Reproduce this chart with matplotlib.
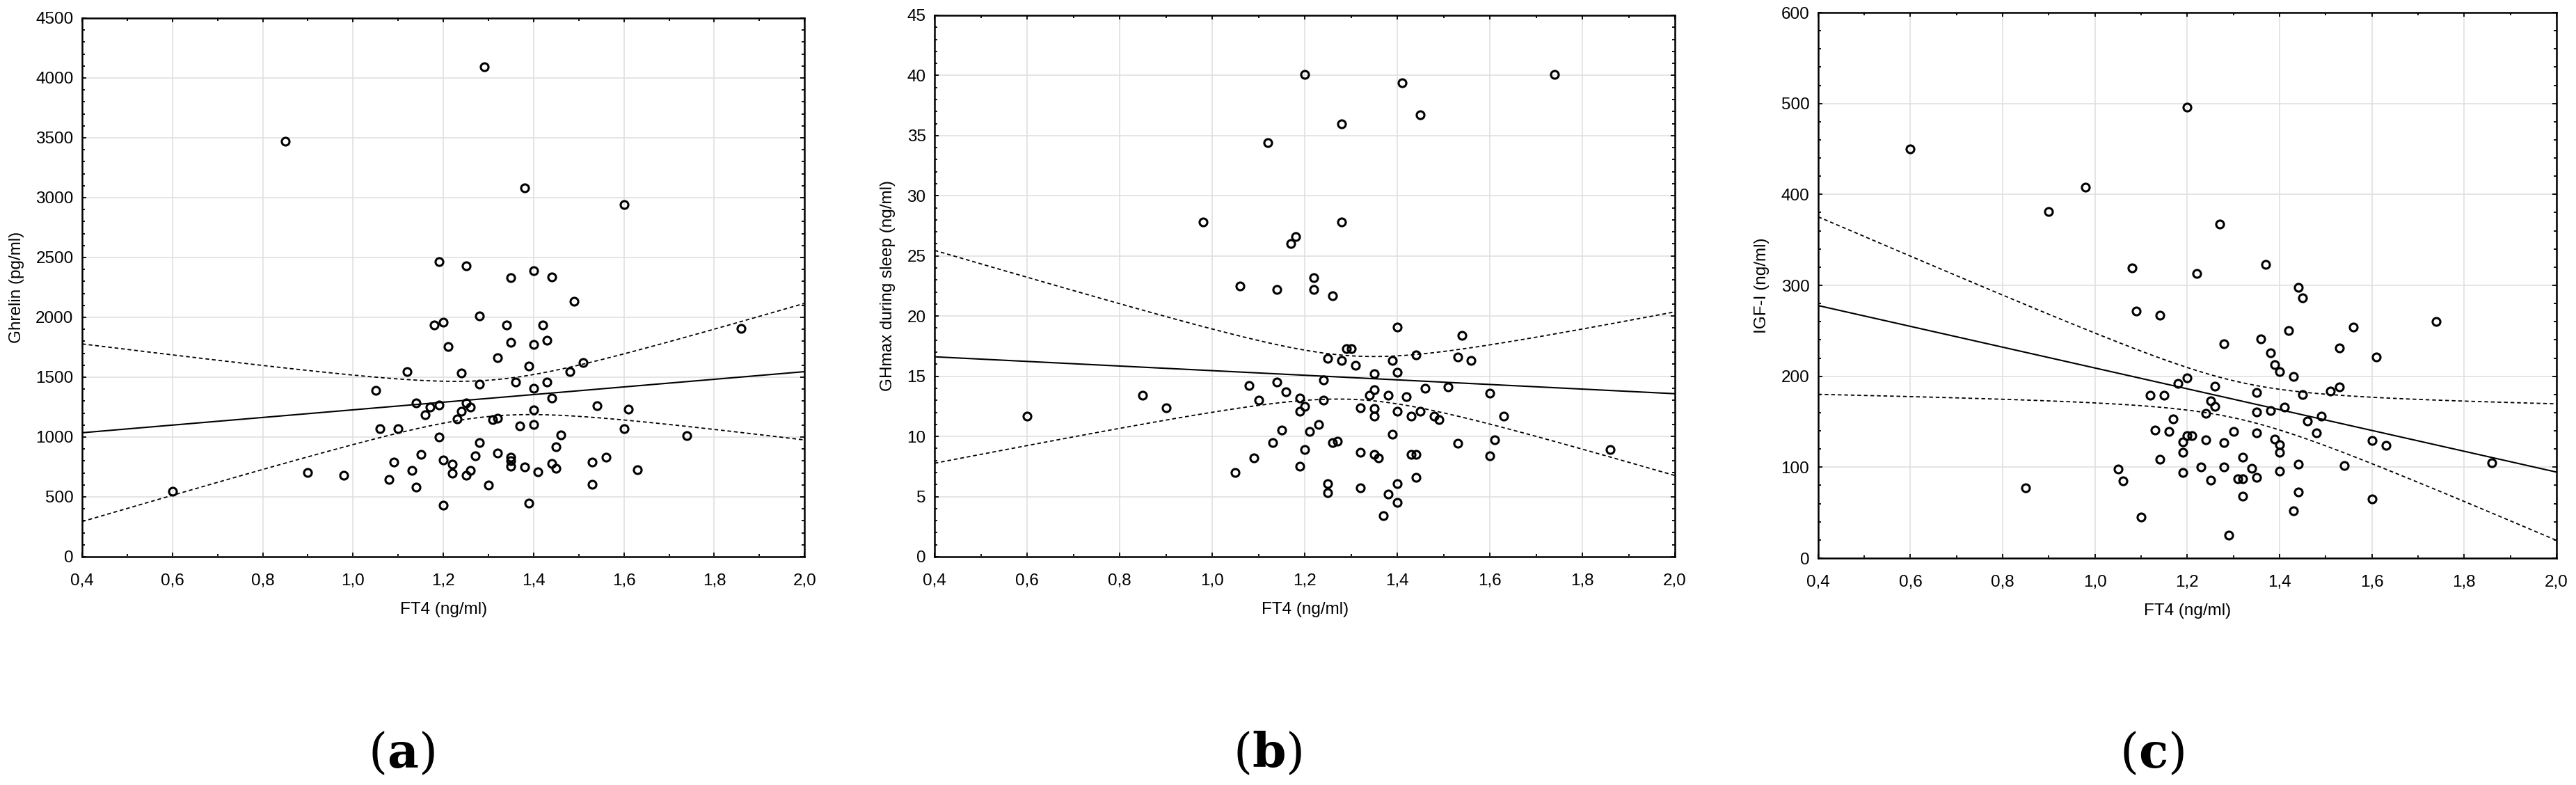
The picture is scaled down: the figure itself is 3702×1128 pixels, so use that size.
#!/usr/bin/env python3
"""
FT4 vs ghrelin, GHmax during sleep and IGF-I:
three scatter plots with linear fit and 95% confidence band
"""

import numpy as np
import matplotlib
matplotlib.use("Agg")
import matplotlib.pyplot as plt
from matplotlib.ticker import MultipleLocator, FuncFormatter

plt.rcParams['font.family'] = ['Liberation Sans', 'DejaVu Sans']
plt.rcParams['mathtext.fontset'] = 'dejavuserif'

# panel (a): FT4 (ng/ml) vs ghrelin (pg/ml)
ft4_a = [1.29, 0.85, 1.38, 1.60, 1.19, 1.25, 1.40, 1.35, 1.44, 1.49,
         1.18, 1.20, 1.28, 1.34, 1.42, 1.35, 1.40, 1.43, 1.21, 1.86,
         1.32, 1.39, 1.51, 1.12, 1.24, 1.48, 1.36, 1.43, 1.28, 1.05,
         1.40, 1.44, 1.14, 1.19, 1.25, 1.17, 1.26, 1.54, 1.61, 1.24,
         1.40, 1.16, 1.23, 1.31, 1.32, 1.37, 1.40, 1.06, 1.10, 1.60,
         1.19, 1.46, 1.74, 1.28, 1.45, 1.15, 1.32, 1.27, 1.35, 1.56,
         1.09, 1.20, 1.35, 1.53, 1.22, 1.44, 1.35, 1.38, 1.45, 1.13,
         1.26, 1.63, 0.90, 1.22, 1.41, 0.98, 1.25, 1.08, 1.30, 1.53,
         1.14, 0.60, 1.20, 1.39]
ghrelin = [4090, 3470, 3080, 2940, 2465, 2430, 2392, 2332, 2338, 2132,
           1933, 1961, 2009, 1933, 1933, 1793, 1774, 1809, 1755, 1907,
           1660, 1591, 1622, 1549, 1537, 1546, 1458, 1458, 1442, 1391,
           1404, 1328, 1286, 1267, 1286, 1252, 1248, 1264, 1233, 1217,
           1226, 1185, 1150, 1144, 1157, 1090, 1103, 1068, 1071, 1071,
           1001, 1017, 1014, 951, 919, 856, 868, 840, 833, 830,
           792, 808, 802, 792, 773, 779, 757, 751, 741, 719,
           719, 729, 703, 700, 707, 681, 681, 643, 596, 605,
           580, 548, 431, 450]

# panel (b): FT4 vs GHmax during sleep (ng/ml)
ft4_b = [1.20, 1.74, 1.41, 1.45, 1.28, 1.12, 0.98, 1.28, 1.18, 1.17,
         1.22, 1.06, 1.14, 1.22, 1.26, 1.40, 1.54, 1.29, 1.30, 1.44,
         1.25, 1.53, 1.28, 1.39, 1.56, 1.31, 1.35, 1.40, 1.24, 1.14,
         1.08, 1.51, 1.46, 1.35, 1.16, 1.60, 0.85, 1.34, 1.38, 1.42,
         1.19, 1.10, 1.24, 1.20, 0.90, 1.32, 1.35, 1.40, 1.45, 1.19,
         0.60, 1.35, 1.43, 1.63, 1.48, 1.49, 1.23, 1.15, 1.21, 1.39,
         1.61, 1.27, 1.26, 1.13, 1.53, 1.20, 1.86, 1.32, 1.35, 1.43,
         1.44, 1.60, 1.36, 1.09, 1.19, 1.05, 1.44, 1.25, 1.40, 1.32,
         1.25, 1.38, 1.40, 1.37]
ghmax = [40.1, 40.1, 39.4, 36.7, 36.0, 34.4, 27.8, 27.8, 26.6, 26.0,
         23.2, 22.5, 22.2, 22.2, 21.7, 19.1, 18.4, 17.3, 17.3, 16.8,
         16.5, 16.6, 16.3, 16.3, 16.3, 15.9, 15.2, 15.3, 14.7, 14.5,
         14.2, 14.1, 14.0, 13.9, 13.7, 13.6, 13.4, 13.4, 13.4, 13.3,
         13.2, 13.0, 13.0, 12.5, 12.4, 12.4, 12.3, 12.1, 12.1, 12.1,
         11.7, 11.7, 11.7, 11.7, 11.7, 11.4, 11.0, 10.5, 10.4, 10.2,
         9.7, 9.6, 9.5, 9.5, 9.4, 8.9, 8.9, 8.7, 8.5, 8.5,
         8.5, 8.4, 8.2, 8.2, 7.5, 7.0, 6.6, 6.1, 6.1, 5.7,
         5.3, 5.2, 4.5, 3.4]

# panel (c): FT4 vs IGF-I (ng/ml)
ft4_c = [1.20, 0.60, 0.98, 0.90, 1.27, 1.37, 1.08, 1.22, 1.44, 1.45,
         1.09, 1.14, 1.74, 1.56, 1.42, 1.36, 1.28, 1.53, 1.38, 1.61,
         1.39, 1.40, 1.43, 1.20, 1.18, 1.26, 1.53, 1.51, 1.35, 1.12,
         1.15, 1.45, 1.25, 1.26, 1.41, 1.38, 1.35, 1.24, 1.49, 1.17,
         1.46, 1.13, 1.30, 1.16, 1.35, 1.48, 1.20, 1.21, 1.39, 1.24,
         1.60, 1.19, 1.28, 1.40, 1.63, 1.19, 1.40, 1.32, 1.14, 1.86,
         1.44, 1.54, 1.23, 1.28, 1.34, 1.05, 1.40, 1.19, 1.35, 1.31,
         1.32, 1.25, 1.06, 0.85, 1.44, 1.32, 1.60, 1.43, 1.10, 1.29]
igf1 = [496, 450, 408, 381, 367, 323, 319, 313, 298, 286,
        272, 267, 260, 254, 250, 241, 236, 231, 226, 221,
        213, 205, 200, 198, 192, 189, 188, 184, 182, 179,
        179, 180, 173, 167, 166, 162, 161, 159, 156, 153,
        151, 141, 139, 139, 138, 138, 135, 135, 131, 130,
        129, 128, 127, 125, 124, 116, 116, 111, 109, 105,
        103, 102, 100, 100, 99, 98, 96, 94, 89, 87,
        87, 86, 85, 77, 73, 68, 65, 52, 45, 25]

x_label = 'FT4 (ng/ml)'
y_labels = ['Ghrelin (pg/ml)', 'GHmax during sleep (ng/ml)', 'IGF-I (ng/ml)']
y_limits = [(0, 4500), (0, 45), (0, 600)]
y_major = [500, 5, 100]
y_minor = [100, 1, 20]
panel_tags = ['a', 'b', 'c']


def fit_band(x, y, xs, t=1.99):
    """Linear fit and 95% confidence band of the mean"""
    x = np.asarray(x, float)
    y = np.asarray(y, float)
    n = len(x)
    slope, icpt = np.polyfit(x, y, 1)
    resid = y - (icpt + slope * x)
    s = np.sqrt(np.sum(resid ** 2) / (n - 2))
    sxx = np.sum((x - x.mean()) ** 2)
    yhat = icpt + slope * xs
    half = t * s * np.sqrt(1.0 / n + (xs - x.mean()) ** 2 / sxx)
    return yhat, yhat - half, yhat + half


def comma(v, pos):
    return f'{v:.1f}'.replace('.', ',')


fig = plt.figure(figsize=(37.02, 11.28), dpi=100)

boxes = [[0.0319, 0.2908, 0.2804, 0.6862],
         [0.3628, 0.2908, 0.2874, 0.6897],
         [0.7058, 0.2890, 0.2866, 0.6950]]
tag_x = [0.1559, 0.4920, 0.8355]

data = [(ft4_a, ghrelin), (ft4_b, ghmax), (ft4_c, igf1)]
xs = np.linspace(0.4, 2.0, 200)

for i, (x, y) in enumerate(data):
    ax = fig.add_axes(boxes[i])

    yhat, lo, hi = fit_band(x, y, xs)
    ax.plot(xs, yhat, color='black', lw=1.5, zorder=2)
    ax.plot(xs, lo, color='black', lw=1.3, ls=(0, (3, 2.2)), zorder=2)
    ax.plot(xs, hi, color='black', lw=1.3, ls=(0, (3, 2.2)), zorder=2)

    ax.plot(x, y, 'o', mfc='none', mec='black', ms=8, mew=2.2,
            zorder=3, clip_on=False)

    ax.set_xlim(0.4, 2.0)
    ax.set_ylim(*y_limits[i])
    ax.xaxis.set_major_locator(MultipleLocator(0.2))
    ax.xaxis.set_minor_locator(MultipleLocator(0.1))
    ax.yaxis.set_major_locator(MultipleLocator(y_major[i]))
    ax.yaxis.set_minor_locator(MultipleLocator(y_minor[i]))
    ax.xaxis.set_major_formatter(FuncFormatter(comma))

    ax.grid(True, which='major', color='#e0e0e0', lw=1.2, zorder=0)
    ax.set_axisbelow(True)
    for sp in ax.spines.values():
        sp.set_linewidth(1.8)
        sp.set_zorder(4)

    ax.tick_params(which='both', direction='in', top=True, right=True,
                   width=1.3, labelsize=17.5, color='black')
    ax.tick_params(which='major', length=4.5)
    ax.tick_params(which='minor', length=2.6)
    ax.tick_params(axis='x', which='major', pad=17)
    ax.tick_params(axis='y', which='major', pad=9)

    ax.set_xlabel(x_label, fontsize=17.5, labelpad=14)
    ax.set_ylabel(y_labels[i], fontsize=17.5, labelpad=12)

    fig.text(tag_x[i], 0.040, '($\\mathbf{' + panel_tags[i] + '}$)',
             family='DejaVu Serif', fontsize=50, ha='center', va='center')

fig.savefig('out.png', dpi=100)
